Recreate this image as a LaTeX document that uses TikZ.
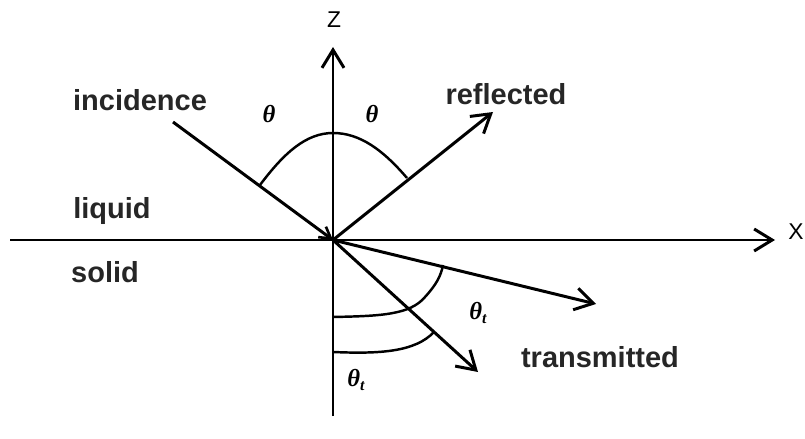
\documentclass[tikz,border=0pt]{standalone}
\usepackage{fontspec}
\setmainfont{Liberation Sans}
\newfontfamily\thfont{Liberation Serif}
\usetikzlibrary{arrows.meta}
\begin{document}
\begin{tikzpicture}[x=0.02cm,y=-0.02cm,
  ray/.style={line width=1.7pt,-{Straight Barb[length=3.6mm,width=4.4mm,line width=1.7pt]}},
  plain/.style={line width=1.7pt},
  arcl/.style={line width=1.4pt},
  lab/.style={font=\fontsize{16.5}{18}\selectfont\bfseries,text=black!85,inner sep=0pt},
  axl/.style={font=\fontsize{13}{15}\selectfont,inner sep=0pt},
  th/.style={font=\fontsize{14}{16}\selectfont\thfont\bfseries\itshape,inner sep=0pt}]
\useasboundingbox (0,0) rectangle (805,439);
\coordinate (O) at (333,240);
\coordinate (xs) at (10,240);
\coordinate (xe) at (775,240);
\coordinate (zs) at (333,416);
\coordinate (ze) at (333,47);
\coordinate (inc) at (173,122);
\coordinate (refl) at (493,112);
\coordinate (t1) at (596,304);
\coordinate (t2) at (478,372);
% axes
\draw[ray] (xs) -- (xe);
\draw[ray] (zs) -- (ze);
% rays
\draw[line width=1.7pt,-{Straight Barb[length=2.2mm,width=2.6mm,line width=1.5pt]}] (inc) -- (O);
\draw[ray] (O) -- (refl);
\draw[ray] (O) -- (t1);
\draw[ray] (O) -- (t2);
% arcs
\draw[arcl] (260,185) .. controls (284,153) and (306,133) .. (333,133)
  .. controls (360,133) and (383,150) .. (407,178);
\draw[arcl] (333,317) .. controls (380,316) and (410,315) .. (425,297)
  .. controls (436,285) and (441,276) .. (443,265);
\draw[arcl] (333,352) .. controls (380,354) and (415,352) .. (434,332);
% labels
\node[axl] (zl) at (334,20) {Z};
\node[axl] (xl) at (796,232) {X};
\node[lab] (li) at (140,100) {incidence};
\node[lab] (lr) at (506,94) {reflected};
\node[lab] (lq) at (112,211) {liquid};
\node[lab] (ls) at (105,272) {solid};
\node[lab] (lt) at (600,357) {transmitted};
\node[th] (th1) at (269,114) {θ};
\node[th] (th2) at (372,114) {θ};
\node[th] (th3) at (478,313) {θ\raisebox{-0.35ex}{\fontsize{9}{10}\selectfont t}};
\node[th] (th4) at (356,380) {θ\raisebox{-0.35ex}{\fontsize{9}{10}\selectfont t}};
\end{tikzpicture}
\end{document}
